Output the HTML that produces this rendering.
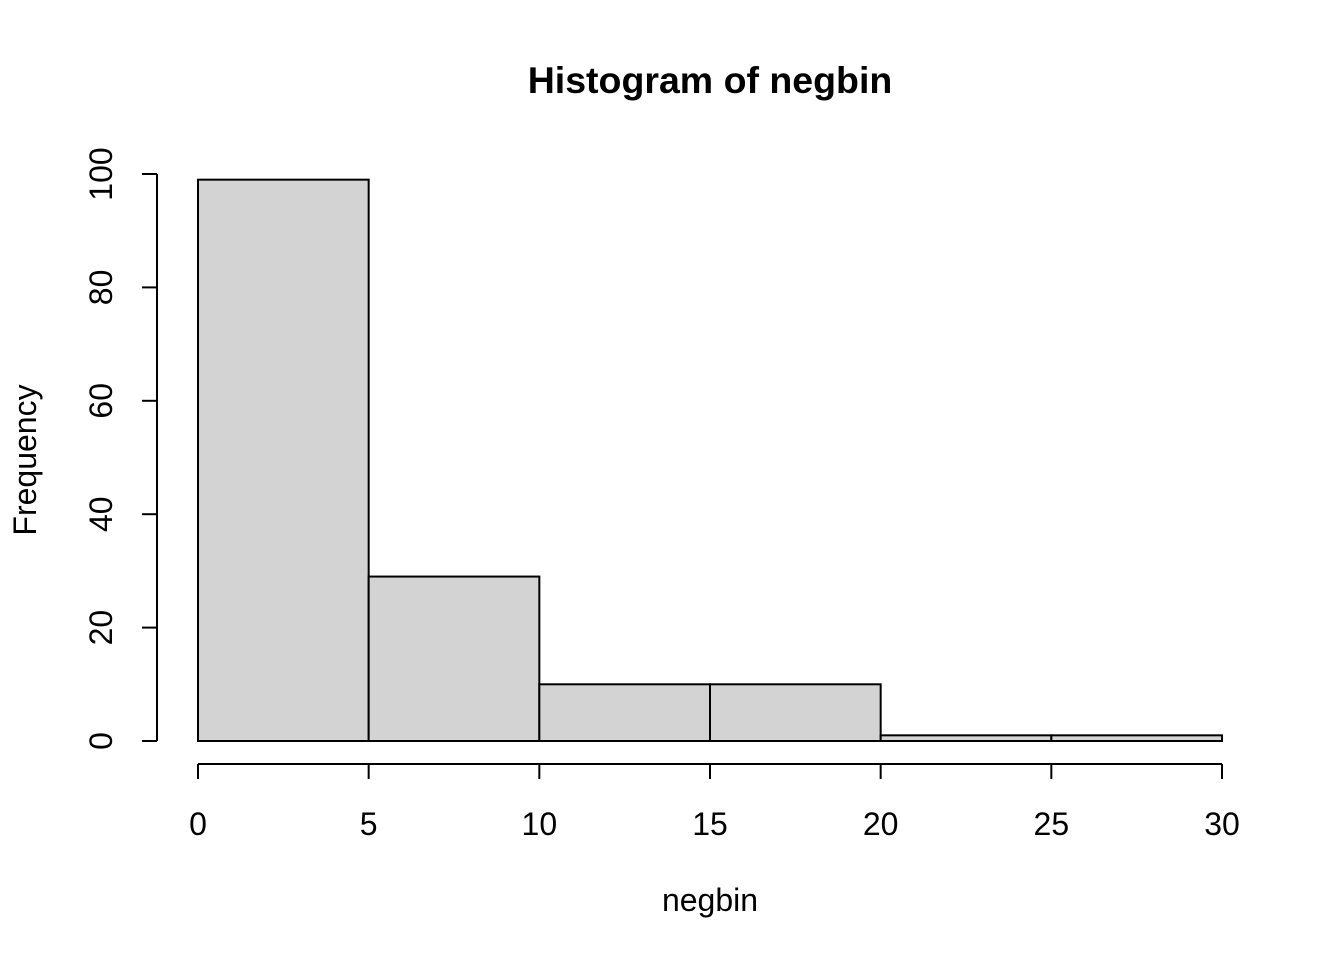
<!DOCTYPE html>
<html><head><meta charset="utf-8"><style>
html,body{margin:0;padding:0;background:#fff;}
svg{display:block;font-family:"Liberation Sans",Arial,sans-serif;}
</style></head><body>
<svg id="chart" width="1344" height="960" viewBox="0 0 1344 960">
<text x="710" y="93" text-anchor="middle" font-size="37.5" font-weight="bold">Histogram of negbin</text>
<text x="710" y="911" text-anchor="middle" font-size="32">negbin</text>
<text transform="translate(36,460) rotate(-90)" text-anchor="middle" font-size="32">Frequency</text>
<g id="bars"></g>
<g id="xaxis"></g>
<g id="yaxis"></g>
</svg>
<script>
const binEdges = [0,5,10,15,20,25,30];
const counts = [99,29,10,10,1,1];
const xTicks = [0,5,10,15,20,25,30];
const yTicks = [0,20,40,60,80,100];
const NS="http://www.w3.org/2000/svg";
function sx(v){return 198+(v-0)*(1222-198)/30;}
function sy(v){return 741-v*(741-174)/100;}
function mk(tag,attrs,parent){const e=document.createElementNS(NS,tag);for(const k in attrs)e.setAttribute(k,attrs[k]);parent.appendChild(e);return e;}
const bars=document.getElementById('bars');
counts.forEach((c,i)=>{
  const x0=sx(binEdges[i]),x1=sx(binEdges[i+1]);
  const r=mk('rect',{x:x0,y:sy(c),width:x1-x0,height:sy(0)-sy(c),fill:'#d3d3d3',stroke:'#000','stroke-width':2},bars);
  
  
});
const xa=document.getElementById('xaxis');
mk('line',{x1:sx(xTicks[0]),x2:sx(xTicks[xTicks.length-1]),y1:764,y2:764,stroke:'#000','stroke-width':2},xa);
xTicks.forEach(t=>{
  mk('line',{x1:sx(t),x2:sx(t),y1:764,y2:779,stroke:'#000','stroke-width':2},xa);
  const tx=mk('text',{x:sx(t),y:835,'text-anchor':'middle','font-size':32},xa);
  tx.textContent=t;
  
  
});
const ya=document.getElementById('yaxis');
mk('line',{x1:157,x2:157,y1:sy(yTicks[0]),y2:sy(yTicks[yTicks.length-1]),stroke:'#000','stroke-width':2},ya);
yTicks.forEach(t=>{
  mk('line',{x1:142,x2:157,y1:sy(t),y2:sy(t),stroke:'#000','stroke-width':2},ya);
  const tx=mk('text',{transform:'translate(112,'+sy(t)+') rotate(-90)','text-anchor':'middle','font-size':32},ya);
  tx.textContent=t;
  
  
});
</script>
</body></html>
